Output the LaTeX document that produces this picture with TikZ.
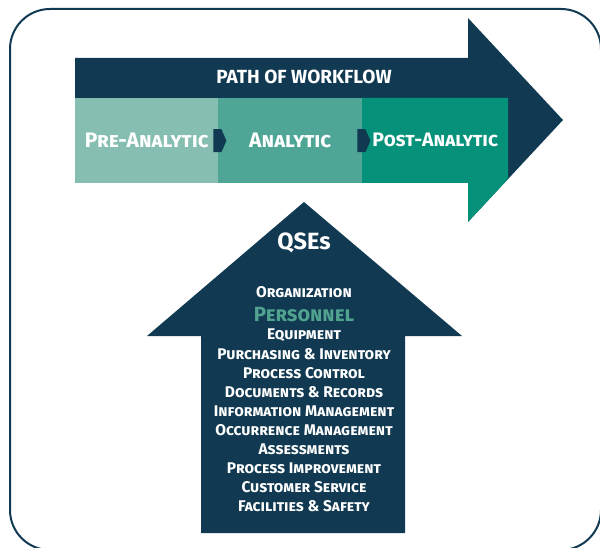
\documentclass[tikz,border=0pt]{standalone}
\usepackage{fontspec}
\setmainfont{Fira Sans}
\usepackage{tikz}
\usetikzlibrary{positioning}

\definecolor{navy}{HTML}{113A52}
\definecolor{preC}{HTML}{86BEB2}
\definecolor{anaC}{HTML}{50A696}
\definecolor{postC}{HTML}{05917A}
\definecolor{persC}{HTML}{4FA38F}

% small chevron between two stages
\newcommand\stagemark[1]{\fill[navy] (#1) ++(-5,-11.5) -- ++(8,0) -- ++(5,11.5) -- ++(-5,11.5) -- ++(-8,0) -- cycle;}

\begin{document}
\begin{tikzpicture}[x=1pt,y=-1pt,node distance=19pt,on grid,
        stage/.style={text=white,font=\fontsize{21}{24}\selectfont\bfseries\scshape,
            inner sep=0pt,anchor=north west,minimum height=85pt},
        qse/.style={text=white,font=\fontsize{15.5}{18}\selectfont\bfseries\scshape,inner sep=0pt},
        title/.style={text=white,font=\bfseries,inner sep=0pt}]
    \useasboundingbox (0,0) rectangle (600,548);

    % frame
    \draw[navy,line width=2pt,rounded corners=40pt] (10,9) rectangle (601,550);

    % path of workflow arrow
    \fill[navy] (75,58) -- (468,58) -- (468,18) -- (563,120) -- (468,222) -- (468,183) -- (75,183) -- cycle;
    \fill[postC] (362,98) -- (508,98) -- (508,179) -- (468,222) -- (468,183) -- (362,183) -- cycle;
    \node[title,font=\fontsize{19}{22}\selectfont\bfseries] (path) at (304,77) {PATH OF WORKFLOW};

    \node[stage,fill=preC,minimum width=143pt,text depth=-4pt] (pre) at (75,98) {Pre-Analytic};
    \node[stage,fill=anaC,minimum width=144pt,text depth=-4pt] (ana) at (218,98) {Analytic};
    \node[stage,minimum width=146pt,font=\fontsize{19.5}{22}\selectfont\bfseries\scshape,text depth=2pt] (post) at (362,98) {Post-Analytic};
    \stagemark{pre.east}
    \stagemark{ana.east}

    % QSEs arrow
    \fill[navy] (201,533) -- (201,336) -- (147,336) -- (304,202) -- (462,336) -- (405,336) -- (405,533) -- cycle;
    \node[title,font=\fontsize{23.5}{26}\selectfont\bfseries] (qses) at (304,243) {QSEs};

    \node[qse] (org) at (304,292) {Organization};
    \node[qse,text=persC,font=\fontsize{20.5}{24}\selectfont\bfseries\scshape] (pers) [below=23pt of org] {Personnel};
    \node[qse] (equip) [below=20pt of pers] {Equipment};
    \node[qse] (purch) [below=of equip] {Purchasing \& Inventory};
    \node[qse] (proc) [below=of purch] {Process Control};
    \node[qse] (docs) [below=of proc] {Documents \& Records};
    \node[qse] (info) [below=of docs] {Information Management};
    \node[qse] (occ) [below=of info] {Occurrence Management};
    \node[qse] (assess) [below=of occ] {Assessments};
    \node[qse] (impr) [below=of assess] {Process Improvement};
    \node[qse] (cust) [below=of impr] {Customer Service};
    \node[qse] (fac) [below=of cust] {Facilities \& Safety};
\end{tikzpicture}
\end{document}
